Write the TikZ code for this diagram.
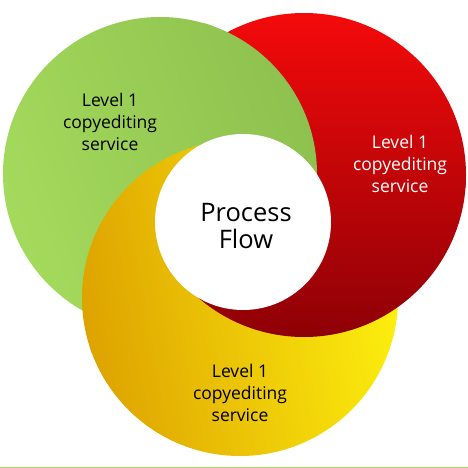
\documentclass[tikz,border=0pt]{standalone}
\usepackage{fontspec}
\setmainfont{Open Sans}
\definecolor{greenL}{HTML}{A4DA5C}
\definecolor{greenD}{HTML}{8EC14F}
\definecolor{redT}{HTML}{F40A0A}
\definecolor{redB}{HTML}{8E0006}
\definecolor{yellowL}{HTML}{DEA300}
\definecolor{yellowR}{HTML}{FDF00E}
\definecolor{rulegreen}{HTML}{A2D468}
\tikzset{
  greenfill/.style={left color=greenL, right color=greenD, shading angle=110},
  redfill/.style={top color=redT, bottom color=redB},
  yellowfill/.style={left color=yellowL, right color=yellowR, shading angle=100},
  ringtext/.style={align=center, font=\fontsize{17.5}{22}\selectfont},
  hubtext/.style={align=center, font=\fontsize{25.5}{27}\selectfont}
}
% the three rings
\newcommand\greenring{\shade[greenfill] (gc) circle[radius=157];}
\newcommand\redring{\shade[redfill] (rc) circle[radius=162];}
\newcommand\yellowring{\shade[yellowfill] (yc) circle[radius=158];}
% sector round the hub, from angle #1 to #3 through #2
\newcommand\hubsector[3]{\clip (hc) -- ([shift={(#1:600)}]hc) -- ([shift={(#2:600)}]hc) -- ([shift={(#3:600)}]hc) -- cycle;}
% keep out of a ring lying above (needs even odd rule)
\newcommand\keepout[2]{\clip (-50,-50) rectangle (520,520) (#1) circle[radius=#2];}
\begin{document}
\begin{tikzpicture}[x=1pt, y=-1pt]
  \useasboundingbox (0,0) rectangle (468,468);

  % Centres
  \coordinate (gc) at (160,174);
  \coordinate (rc) at (304,175);
  \coordinate (yc) at (240,298);
  \coordinate (hc) at (243,222);

  % Top: green over red over yellow
  \begin{scope}
    \hubsector{-9}{-55}{-101}
    \begin{scope}[even odd rule]
      \keepout{gc}{155.5} \keepout{rc}{160.5} \yellowring
    \end{scope}
    \begin{scope}[even odd rule]
      \keepout{gc}{155.5} \redring
    \end{scope}
    \greenring
  \end{scope}
  % Left: yellow over green over red
  \begin{scope}
    \hubsector{-99}{-160}{-221}
    \begin{scope}[even odd rule]
      \keepout{yc}{156.5} \keepout{gc}{155.5} \redring
    \end{scope}
    \begin{scope}[even odd rule]
      \keepout{yc}{156.5} \greenring
    \end{scope}
    \yellowring
  \end{scope}
  % Bottom and right: red over yellow over green
  \begin{scope}
    \hubsector{-219}{-295}{-371}
    \begin{scope}[even odd rule]
      \keepout{rc}{160.5} \keepout{yc}{156.5} \greenring
    \end{scope}
    \begin{scope}[even odd rule]
      \keepout{rc}{160.5} \yellowring
    \end{scope}
    \redring
  \end{scope}

  % Hub
  \node[circle, fill=white, minimum size=176pt, inner sep=0pt] (hub) at (hc) {};
  \node[hubtext] (flow) at (246,226) {Process\\Flow};

  % Labels
  \node[ringtext] (lvlgreen) at (110,122) {Level 1\\copyediting\\service};
  \node[ringtext, text=white] (lvlred) at (400,164) {Level 1\\copyediting\\service};
  \node[ringtext] (lvlyellow) at (240,393) {Level 1\\copyediting\\service};

  % Bottom rule
  \coordinate (ruleL) at (0,467.3);
  \coordinate (ruleR) at (468,467.3);
  \draw[rulegreen, line width=1.2pt] (ruleL) -- (ruleR);
\end{tikzpicture}
\end{document}
